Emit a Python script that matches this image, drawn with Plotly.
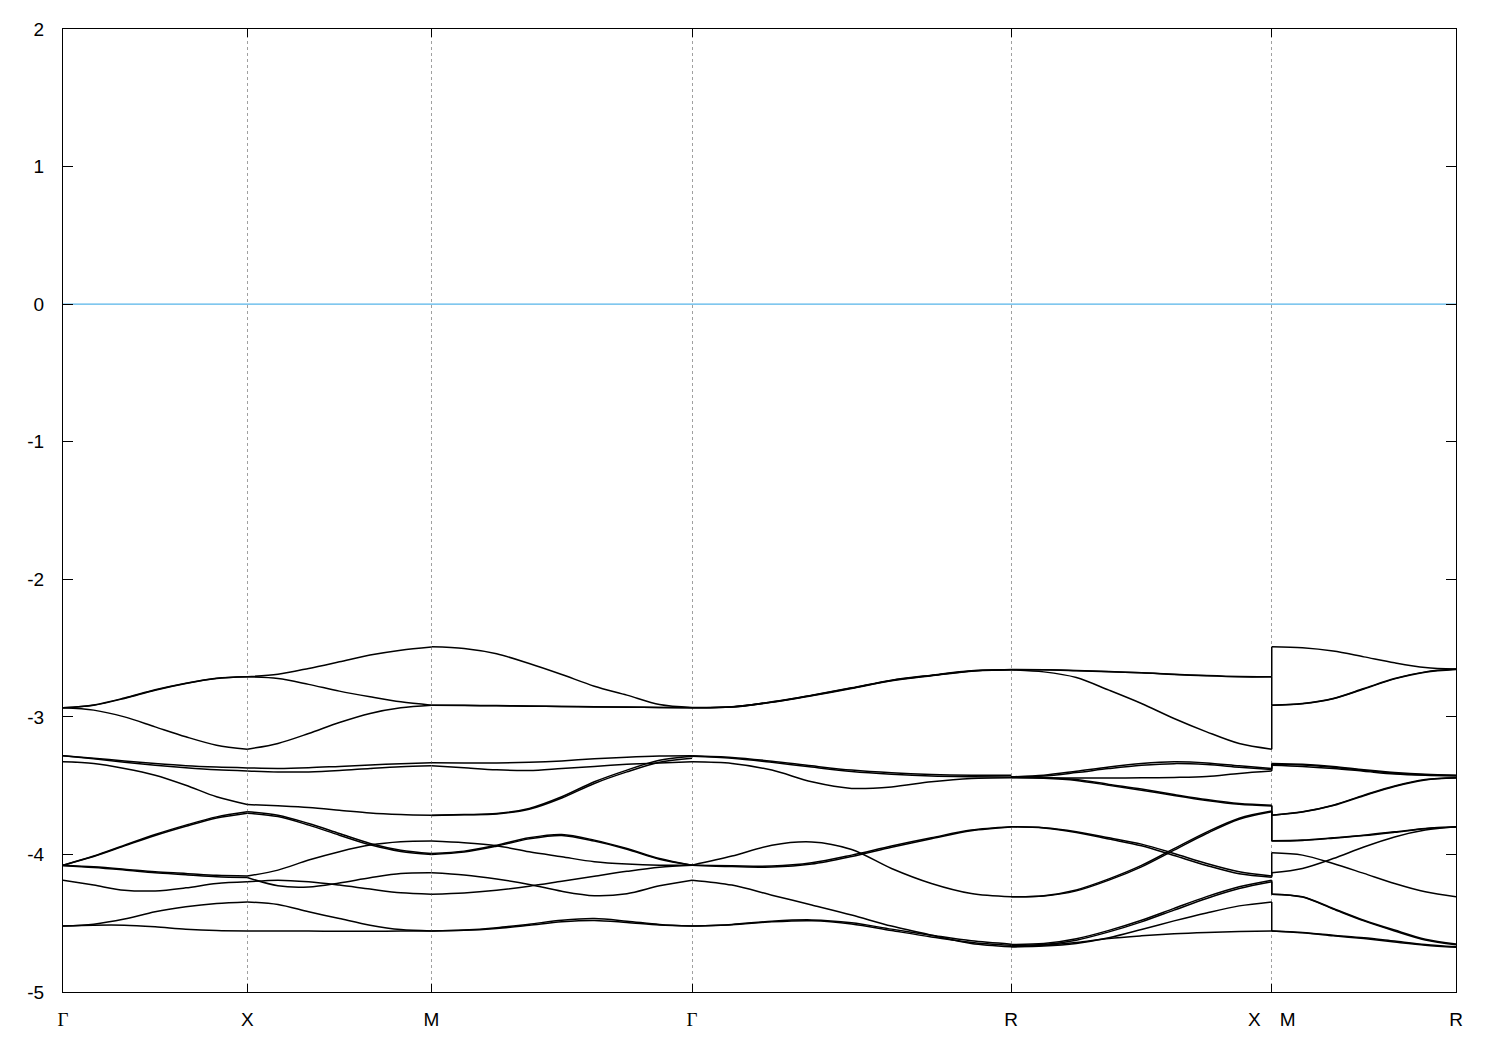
import numpy as np
import plotly.graph_objects as go

# ---- k-path (segment lengths in 2pi/a units) and labels ----
segment_lengths = [0.5, 0.5, 0.7071, 0.8660, 0.7071, 0.5]
point_labels = ['<span style="font-family:Liberation Serif">Γ</span>', "X", "M",
                '<span style="font-family:Liberation Serif">Γ</span>', "R", "X\u2003M", "R"]
y_ticks = [-5, -4, -3, -2, -1, 0, 1, 2]
y_tick_labels = ["-5", "-4", "-3", "-2", "-1", "0", "1", "2"]

# ---- band energies, per path segment ----
seg_gx = [  # Gamma -> X
    [-2.934, -2.915, -2.866, -2.806, -2.757, -2.721, -2.709],
    [-2.934, -2.913, -2.863, -2.803, -2.755, -2.719, -2.708],
    [-2.934, -2.951, -3.000, -3.073, -3.145, -3.206, -3.235],
    [-3.283, -3.300, -3.320, -3.339, -3.355, -3.365, -3.371],
    [-3.283, -3.305, -3.330, -3.351, -3.370, -3.385, -3.393],
    [-3.327, -3.339, -3.375, -3.424, -3.497, -3.581, -3.637],
    [-4.078, -4.012, -3.933, -3.855, -3.787, -3.727, -3.690],
    [-4.078, -4.015, -3.938, -3.862, -3.795, -3.735, -3.700],
    [-4.078, -4.090, -4.107, -4.126, -4.138, -4.152, -4.157],
    [-4.082, -4.095, -4.113, -4.133, -4.147, -4.162, -4.168],
    [-4.187, -4.223, -4.260, -4.265, -4.243, -4.211, -4.199],
    [-4.521, -4.507, -4.470, -4.417, -4.381, -4.357, -4.345],
    [-4.521, -4.514, -4.514, -4.526, -4.543, -4.553, -4.556],
]
seg_xm = [  # X -> M
    [-2.709, -2.690, -2.648, -2.600, -2.551, -2.515, -2.493],
    [-2.709, -2.721, -2.764, -2.813, -2.854, -2.891, -2.915],
    [-3.235, -3.193, -3.121, -3.041, -2.975, -2.934, -2.915],
    [-3.371, -3.375, -3.370, -3.360, -3.350, -3.340, -3.333],
    [-3.393, -3.400, -3.400, -3.390, -3.375, -3.362, -3.355],
    [-3.637, -3.647, -3.659, -3.678, -3.698, -3.709, -3.715],
    [-3.690, -3.715, -3.775, -3.848, -3.920, -3.969, -3.993],
    [-3.700, -3.725, -3.787, -3.860, -3.930, -3.978, -4.000],
    [-4.157, -4.114, -4.041, -3.980, -3.932, -3.908, -3.903],
    [-4.168, -4.228, -4.236, -4.207, -4.170, -4.139, -4.134],
    [-4.199, -4.187, -4.199, -4.223, -4.252, -4.279, -4.289],
    [-4.345, -4.364, -4.417, -4.466, -4.514, -4.546, -4.556],
    [-4.556, -4.556, -4.557, -4.558, -4.558, -4.557, -4.556],
]
seg_mg = [  # M -> Gamma
    [-2.491, -2.503, -2.542, -2.612, -2.692, -2.777, -2.842, -2.910, -2.932],
    [-2.915, -2.917, -2.920, -2.922, -2.925, -2.928, -2.930, -2.932, -2.934],
    [-2.915, -2.916, -2.918, -2.921, -2.924, -2.927, -2.929, -2.932, -2.934],
    [-3.333, -3.335, -3.335, -3.330, -3.320, -3.305, -3.293, -3.285, -3.283],
    [-3.355, -3.370, -3.385, -3.390, -3.375, -3.360, -3.345, -3.335, -3.327],
    [-3.715, -3.710, -3.703, -3.666, -3.581, -3.472, -3.387, -3.315, -3.286],
    [-3.717, -3.712, -3.706, -3.672, -3.590, -3.484, -3.400, -3.330, -3.300],
    [-3.993, -3.976, -3.933, -3.879, -3.855, -3.896, -3.957, -4.030, -4.078],
    [-4.000, -3.983, -3.940, -3.887, -3.862, -3.903, -3.963, -4.035, -4.078],
    [-3.903, -3.915, -3.937, -3.981, -4.017, -4.053, -4.070, -4.078, -4.078],
    [-4.134, -4.150, -4.179, -4.218, -4.268, -4.300, -4.285, -4.228, -4.187],
    [-4.289, -4.280, -4.260, -4.231, -4.195, -4.159, -4.123, -4.093, -4.078],
    [-4.556, -4.550, -4.533, -4.507, -4.478, -4.466, -4.485, -4.509, -4.521],
    [-4.556, -4.552, -4.538, -4.515, -4.490, -4.480, -4.495, -4.513, -4.521],
]
seg_gr = [  # Gamma -> R
    [-2.932, -2.927, -2.891, -2.842, -2.789, -2.733, -2.697, -2.665, -2.658],
    [-2.934, -2.929, -2.894, -2.846, -2.794, -2.738, -2.701, -2.668, -2.658],
    [-2.934, -2.928, -2.892, -2.844, -2.791, -2.735, -2.699, -2.666, -2.656],
    [-3.283, -3.295, -3.322, -3.356, -3.387, -3.407, -3.419, -3.424, -3.424],
    [-3.286, -3.300, -3.330, -3.365, -3.397, -3.417, -3.430, -3.435, -3.437],
    [-3.327, -3.339, -3.387, -3.472, -3.520, -3.509, -3.472, -3.448, -3.443],
    [-4.078, -4.012, -3.933, -3.909, -3.964, -4.102, -4.211, -4.284, -4.308],
    [-4.078, -4.083, -4.085, -4.061, -4.005, -3.939, -3.879, -3.823, -3.799],
    [-4.078, -4.088, -4.092, -4.070, -4.015, -3.948, -3.886, -3.828, -3.801],
    [-4.187, -4.223, -4.296, -4.368, -4.441, -4.521, -4.587, -4.647, -4.671],
    [-4.521, -4.509, -4.485, -4.476, -4.497, -4.543, -4.587, -4.628, -4.652],
    [-4.521, -4.512, -4.490, -4.482, -4.505, -4.553, -4.600, -4.640, -4.660],
]
seg_rx = [  # R -> X
    [-2.658, -2.658, -2.665, -2.673, -2.680, -2.692, -2.702, -2.709, -2.709],
    [-2.656, -2.657, -2.663, -2.671, -2.679, -2.690, -2.700, -2.707, -2.708],
    [-2.658, -2.673, -2.714, -2.806, -2.903, -3.012, -3.109, -3.194, -3.235],
    [-3.436, -3.424, -3.395, -3.364, -3.339, -3.327, -3.335, -3.356, -3.375],
    [-3.436, -3.430, -3.405, -3.376, -3.352, -3.340, -3.347, -3.366, -3.383],
    [-3.440, -3.443, -3.445, -3.445, -3.443, -3.440, -3.433, -3.411, -3.394],
    [-3.436, -3.440, -3.455, -3.491, -3.525, -3.564, -3.601, -3.630, -3.642],
    [-3.443, -3.447, -3.462, -3.498, -3.533, -3.572, -3.608, -3.636, -3.648],
    [-4.308, -4.303, -4.265, -4.187, -4.090, -3.969, -3.848, -3.744, -3.690],
    [-4.308, -4.300, -4.258, -4.178, -4.080, -3.958, -3.838, -3.737, -3.685],
    [-3.799, -3.806, -3.835, -3.879, -3.925, -3.993, -4.066, -4.126, -4.157],
    [-3.799, -3.808, -3.840, -3.888, -3.937, -4.008, -4.080, -4.140, -4.165],
    [-4.660, -4.655, -4.623, -4.563, -4.490, -4.405, -4.320, -4.248, -4.199],
    [-4.655, -4.648, -4.613, -4.552, -4.478, -4.392, -4.307, -4.235, -4.187],
    [-4.671, -4.666, -4.647, -4.606, -4.546, -4.483, -4.425, -4.374, -4.345],
    [-4.671, -4.660, -4.640, -4.611, -4.592, -4.577, -4.567, -4.560, -4.556],
]
seg_mr = [  # M -> R
    [-2.491, -2.498, -2.522, -2.564, -2.607, -2.641, -2.653],
    [-2.915, -2.903, -2.866, -2.794, -2.721, -2.673, -2.653],
    [-2.915, -2.904, -2.868, -2.797, -2.724, -2.675, -2.655],
    [-3.339, -3.345, -3.360, -3.385, -3.405, -3.418, -3.424],
    [-3.345, -3.350, -3.367, -3.390, -3.410, -3.421, -3.427],
    [-3.351, -3.360, -3.375, -3.395, -3.415, -3.425, -3.430],
    [-3.715, -3.690, -3.642, -3.569, -3.502, -3.456, -3.443],
    [-3.715, -3.692, -3.645, -3.573, -3.506, -3.459, -3.445],
    [-3.901, -3.896, -3.879, -3.860, -3.836, -3.811, -3.799],
    [-3.903, -3.898, -3.882, -3.863, -3.839, -3.813, -3.801],
    [-3.988, -4.005, -4.066, -4.138, -4.211, -4.272, -4.308],
    [-4.134, -4.102, -4.030, -3.946, -3.873, -3.823, -3.799],
    [-4.289, -4.308, -4.393, -4.478, -4.550, -4.616, -4.652],
    [-4.289, -4.310, -4.397, -4.483, -4.556, -4.622, -4.656],
    [-4.556, -4.567, -4.587, -4.606, -4.630, -4.654, -4.671],
    [-4.556, -4.569, -4.591, -4.612, -4.637, -4.660, -4.675],
]
fermi_level = 0.0

# ---- build figure ----
nodes = np.concatenate([[0.0], np.cumsum(segment_lengths)])
segments = [seg_gx, seg_xm, seg_mg, seg_gr, seg_rx, seg_mr]

fig = go.Figure()
band_line = dict(color="black", width=1.5, shape="spline", smoothing=0.9)

for i, seg in enumerate(segments):
    for band in seg:
        k = np.linspace(nodes[i], nodes[i + 1], len(band))
        fig.add_trace(go.Scatter(x=k, y=band, mode="lines", line=band_line,
                                 hoverinfo="skip", showlegend=False))

# discontinuity X|M : connect the sorted band energies vertically
x_side = sorted([b[-1] for b in seg_rx], reverse=True)
m_side = sorted([b[0] for b in seg_mr], reverse=True)
for a, b in zip(x_side, m_side):
    fig.add_trace(go.Scatter(x=[nodes[5], nodes[5]], y=[a, b], mode="lines",
                             line=dict(color="black", width=1.5),
                             hoverinfo="skip", showlegend=False))

# Fermi level
fig.add_trace(go.Scatter(x=[nodes[0], nodes[-1]], y=[fermi_level, fermi_level],
                         mode="lines", line=dict(color="rgb(86,180,233)", width=1.4),
                         hoverinfo="skip", showlegend=False))

fig.update_layout(
    width=1500, height=1050,
    margin=dict(l=55, r=52, t=21, b=66),
    paper_bgcolor="white", plot_bgcolor="white",
    font=dict(family="Liberation Sans, Arial, sans-serif", size=19, color="black"),
    showlegend=False,
)
fig.update_xaxes(
    range=[nodes[0], nodes[-1]], tickvals=list(nodes), ticktext=point_labels,
    showgrid=True, gridcolor="#a0a0a0", griddash="dot", gridwidth=1,
    ticks="inside", ticklen=8, tickcolor="black",
    showline=True, linecolor="black", linewidth=1, mirror="ticks",
    zeroline=False, ticklabelstandoff=10,
)
fig.update_yaxes(
    range=[-5, 2], tickvals=y_ticks, ticktext=y_tick_labels,
    showgrid=False, zeroline=False,
    ticks="inside", ticklen=10, tickcolor="black",
    showline=True, linecolor="black", linewidth=1, mirror="ticks",
    ticklabelstandoff=14,
)

fig.write_html("out.html")
